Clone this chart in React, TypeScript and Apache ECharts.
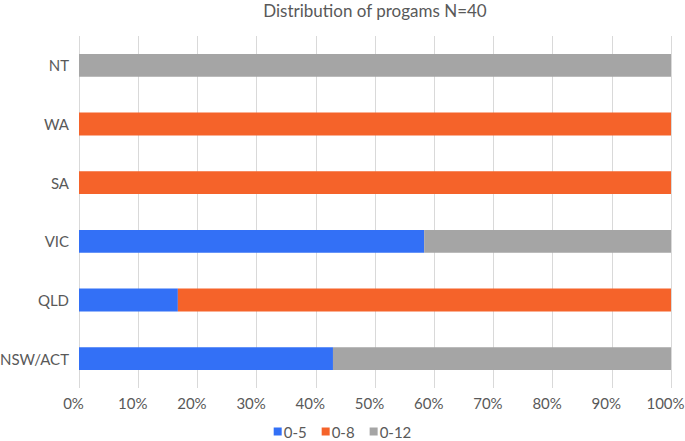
import React, { useEffect, useRef } from "react";
import * as echarts from "echarts";

const categories = ["NSW/ACT", "QLD", "VIC", "SA", "WA", "NT"];
const seriesNames = ["0-5", "0-8", "0-12"];
const values05 = [42.9, 16.7, 58.3, 0, 0, 0];
const values08 = [0, 83.3, 0, 100, 100, 0];
const values012 = [57.1, 0, 41.7, 0, 0, 100];
const colors = ["#3370F6", "#F5632A", "#A5A5A5"];

export default function App() {
  const ref = useRef<HTMLDivElement>(null);
  useEffect(() => {
    if (!ref.current) return;
    const chart = echarts.init(ref.current, undefined, { renderer: "svg" });
    const font = "Lato, 'Open Sans', sans-serif";
    const data = [values05, values08, values012];
    chart.setOption({
      animation: false,
      title: {
        text: "Distribution of progams N=40",
        left: 375,
        textAlign: "center",
        top: 0,
        padding: [2, 0, 2, 0],
        textStyle: { fontFamily: font, fontSize: 17, fontWeight: "normal", color: "#595959" },
      },
      legend: {
        bottom: 0,
        left: "center",
        padding: [0, 5, 2, 5],
        itemWidth: 8,
        itemHeight: 8,
        itemGap: 15,
        icon: "rect",
        textStyle: { fontFamily: font, fontSize: 15, color: "#595959", padding: [0, 0, 0, -3] },
        data: seriesNames,
      },
      grid: {
        left: 79,
        right: 14,
        top: 36,
        bottom: 53,
        containLabel: false,
        outerBoundsMode: "none",
      },
      xAxis: {
        type: "value",
        min: 0,
        max: 100,
        interval: 10,
        axisLine: { show: false },
        axisTick: { show: false },
        splitLine: { lineStyle: { color: "#D9D9D9", width: 1 } },
        axisLabel: {
          formatter: "{value}%",
          fontFamily: font,
          fontSize: 15,
          color: "#595959",
          margin: 7,
          padding: [0, 11, 0, 0],
        },
      },
      yAxis: {
        type: "category",
        data: categories,
        axisLine: { show: false },
        axisTick: { show: false },
        axisLabel: { fontFamily: font, fontSize: 15, color: "#595959", margin: 10 },
      },
      series: seriesNames.map((name, i) => ({
        name,
        type: "bar",
        stack: "total",
        barWidth: "39%",
        itemStyle: { color: colors[i] },
        data: data[i],
      })),
    });
    return () => chart.dispose();
  }, []);
  return (
    <div
      ref={ref}
      style={{ position: "absolute", left: 0, top: 0, width: 685, height: 441 }}
    />
  );
}
